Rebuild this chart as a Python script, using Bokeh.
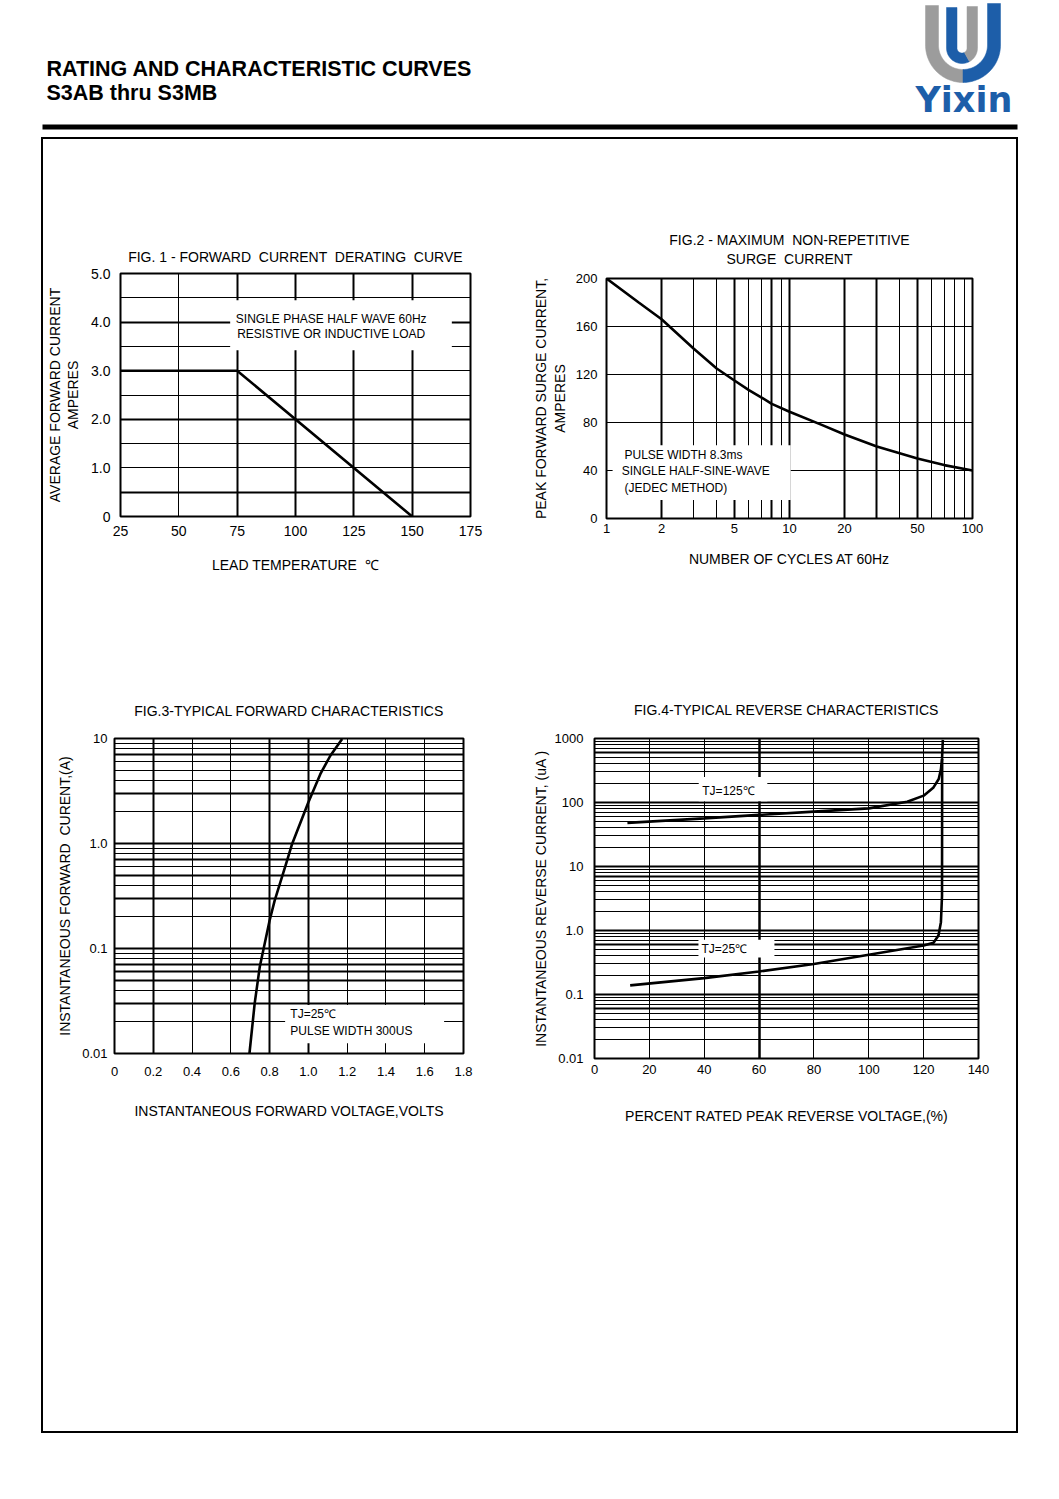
import numpy as np
from bokeh.plotting import figure
from bokeh.layouts import column, row
from bokeh.models import Range1d, FixedTicker, Grid, Label, Spacer, LinearAxis, LogAxis
from bokeh.core.properties import value
from bokeh.embed import file_html
from bokeh.resources import INLINE

FONT = "Liberation Sans"
NB = "\u00a0"

# ---------------- data ----------------
# FIG.1 forward current derating curve
fig1_temp = [25, 75, 150]
fig1_current = [3.0, 3.0, 0.0]
fig1_xticks = [25, 50, 75, 100, 125, 150, 175]
fig1_xlabels = ["25", "50", "75", "100", "125", "150", "175"]
fig1_yticks = [0, 1, 2, 3, 4, 5]
fig1_ylabels = ["0", "1.0", "2.0", "3.0", "4.0", "5.0"]

# FIG.2 maximum non-repetitive surge current
fig2_cycles = [1, 1.5, 2, 3, 4, 5, 6, 7, 8, 10, 15, 20, 30, 50, 70, 100]
fig2_surge = [200, 180, 166, 141.5, 125, 115, 107, 101, 95.5, 89, 78, 70, 60, 50, 44.5, 40]
fig2_xticks = [1, 2, 5, 10, 20, 50, 100]
fig2_xlabels = ["1", "2", "5", "10", "20", "50", "100"]
fig2_yticks = [0, 40, 80, 120, 160, 200]
fig2_ylabels = ["0", "40", "80", "120", "160", "200"]

# FIG.3 typical forward characteristics
fig3_volt = [0.696, 0.723, 0.749, 0.80, 0.826, 0.89, 0.916, 1.00, 1.062, 1.113, 1.174]
fig3_amp = [0.01, 0.03, 0.0665, 0.185, 0.286, 0.687, 0.99, 2.47, 4.6, 6.85, 9.9]
fig3_xticks = [0, 0.2, 0.4, 0.6, 0.8, 1.0, 1.2, 1.4, 1.6, 1.8]
fig3_xlabels = ["0", "0.2", "0.4", "0.6", "0.8", "1.0", "1.2", "1.4", "1.6", "1.8"]
fig3_yticks = [0.01, 0.1, 1, 10]
fig3_ylabels = ["0.01", "0.1", "1.0", "10"]

# FIG.4 typical reverse characteristics
fig4_pct_125 = [12, 40, 60, 80, 100, 114, 120, 123.6, 125.5, 126.3, 126.7, 127]
fig4_ua_125 = [48, 56.5, 64, 72, 81, 103, 128, 172, 233, 330, 480, 950]
fig4_pct_25 = [13, 40, 60, 80, 100, 120, 123.6, 125.4, 126.3, 126.7, 126.75]
fig4_ua_25 = [0.139, 0.18, 0.229, 0.30, 0.418, 0.583, 0.643, 0.836, 1.35, 3.5, 480]
fig4_xticks = [0, 20, 40, 60, 80, 100, 120, 140]
fig4_xlabels = ["0", "20", "40", "60", "80", "100", "120", "140"]
fig4_yticks = [0.01, 0.1, 1, 10, 100, 1000]
fig4_ylabels = ["0.01", "0.1", "1.0", "10", "100", "1000"]


# ---------------- helpers ----------------
def style_axis(ax, tick_size):
    ax.axis_line_color = None
    ax.major_tick_line_color = None
    ax.minor_tick_line_color = None
    ax.major_tick_out = 0
    ax.major_tick_in = 0
    ax.minor_tick_out = 0
    ax.minor_tick_in = 0
    ax.major_label_text_font = FONT
    ax.major_label_text_font_size = tick_size
    ax.major_label_text_color = "black"
    ax.axis_label_text_font = FONT
    ax.axis_label_text_font_style = "normal"
    ax.axis_label_text_font_size = "14px"
    ax.axis_label_text_color = "black"


def make_fig(width, height, borders, xr, yr, title, xlabel, ylabel,
             x_type="linear", y_type="linear", tick_size="13px"):
    l, r, t, b = borders
    p = figure(width=width, height=height, x_range=xr, y_range=yr,
               x_axis_type=x_type, y_axis_type=y_type, title=title,
               output_backend="svg", toolbar_location=None,
               min_border_left=l, min_border_right=r,
               min_border_top=t, min_border_bottom=b)
    p.xgrid.visible = False
    p.ygrid.visible = False
    p.outline_line_color = "black"
    p.outline_line_width = 2
    p.outline_line_alpha = 1
    p.background_fill_color = "white"
    p.border_fill_color = "white"
    if p.title is not None:
        p.title.align = "center"
        p.title.text_font = FONT
        p.title.text_font_style = "normal"
        p.title.text_font_size = "14px"
        p.title.text_color = "black"
    xa = p.below[0]
    ya = p.left[0]
    xa.axis_label = xlabel
    ya.axis_label = ylabel
    style_axis(xa, tick_size)
    style_axis(ya, tick_size)
    return p, xa, ya


def add_label_axis(p, axis_cls, place, text, standoff):
    ax = axis_cls(axis_label=text, ticker=FixedTicker(ticks=[]))
    style_axis(ax, "13px")
    ax.major_label_standoff = 0
    ax.axis_label_standoff = standoff
    p.add_layout(ax, place)


def set_ticks(ax, ticks, labels):
    ax.ticker = FixedTicker(ticks=ticks)
    ax.major_label_overrides = {t: s for t, s in zip(ticks, labels)}


def add_grid(p, dim, ticks, width):
    if ticks:
        p.add_layout(Grid(dimension=dim, ticker=FixedTicker(ticks=ticks),
                          grid_line_color="black", grid_line_width=width))


def add_label(p, x, y, text, align="left"):
    p.add_layout(Label(x=x, y=y, text=text, text_font=FONT, text_font_size="12px",
                       text_color="black", text_align=align, text_baseline="middle"))


def log_grid(lo_exp, hi_exp, thick_set):
    thin, thick = [], []
    for d in range(lo_exp, hi_exp):
        for k in range(1, 10):
            v = k * 10.0 ** d
            (thick if (k, d) in thick_set or k == 1 else thin).append(v)
    return thin, thick


# ---------------- header ----------------
hdr = figure(width=1051, height=137, x_range=Range1d(0, 1051), y_range=Range1d(137, 0),
             output_backend="svg", toolbar_location=None, min_border=0,
             x_axis_location=None, y_axis_location=None)
hdr.grid.visible = False
hdr.outline_line_color = None
hdr.text(x=[46], y=[68.5], text=["RATING AND CHARACTERISTIC CURVES"], text_font=value(FONT),
         text_font_style="bold", text_font_size="21.5px", text_baseline="middle", text_color="black")
hdr.text(x=[46], y=[92], text=["S3AB thru S3MB"], text_font=value(FONT),
         text_font_style="bold", text_font_size="21.5px", text_baseline="middle", text_color="black")
hdr.line(x=[42, 1017], y=[126.5, 126.5], line_width=5, line_color="black")


def band(cx, cy, R, r, th0, th1, top0=None, top1=None, n=40):
    th = np.linspace(th0, th1, n)
    xs, ys = [], []
    if top0 is not None:
        xs.append(cx + R * np.cos(th0)); ys.append(top0)
    xs += list(cx + R * np.cos(th)); ys += list(cy + R * np.sin(th))
    if top1 is not None:
        xs += [cx + R * np.cos(th1), cx + r * np.cos(th1)]; ys += [top1, top1]
    xs += list(cx + r * np.cos(th[::-1])); ys += list(cy + r * np.sin(th[::-1]))
    if top0 is not None:
        xs.append(cx + r * np.cos(th0)); ys.append(top0)
    return xs, ys


GRAY = "#9c9c9c"
BLUE = "#1d5ea9"
shapes = [
    (band(962.5, 44.5, 37.5, 24.5, np.pi, np.pi / 2, top0=5), GRAY),
    (band(962.5, 44.5, 37.5, 24.5, np.pi / 2, 0, top1=3), BLUE),
    (band(961.5, 47.5, 15.5, 5.0, np.pi, np.pi / 2 - 0.5, top0=7), BLUE),
    (band(961.5, 47.5, 15.5, 5.0, np.pi / 2 - 0.5, 0, top1=6), GRAY),
]
for (xs, ys), c in shapes:
    hdr.patch(x=xs, y=ys, fill_color=c, line_color=c, line_width=0.5)
hdr.text(x=[915], y=[99], text=["Yixin"], text_font=value("DejaVu Sans"),
         text_font_style="bold", text_font_size="35px", text_baseline="middle",
         text_color=BLUE)

# ---------------- FIG 1 ----------------
f1, f1x, f1y = make_fig(477, 501, (75, 50, 134, 124), Range1d(25, 175), Range1d(0, 5),
                        f"FIG. 1 - FORWARD {NB}CURRENT {NB}DERATING {NB}CURVE",
                        f"LEAD TEMPERATURE {NB}\u2103", "AMPERES", tick_size="14px")
add_label_axis(f1, LinearAxis, "left", "AVERAGE FORWARD CURRENT", 0)
set_ticks(f1x, fig1_xticks, fig1_xlabels)
set_ticks(f1y, fig1_yticks, fig1_ylabels)
f1.title.standoff = 18
f1x.major_label_standoff = 9
f1x.axis_label_standoff = 18
f1y.major_label_standoff = 10
f1y.axis_label_standoff = 7
add_grid(f1, 0, [50], 1)
add_grid(f1, 0, [75, 100, 125, 150], 2)
add_grid(f1, 1, [1.0, 1.5, 2.5, 3.0, 3.5, 4.5], 1)
add_grid(f1, 1, [0.5, 2.0, 4.0], 2)
f1.quad(left=[72], right=[167], bottom=[3.42], top=[4.45], fill_color="white", line_color=None)
add_label(f1, 115.3, 4.07, "SINGLE PHASE HALF WAVE 60Hz", "center")
add_label(f1, 115.3, 3.745, "RESISTIVE OR INDUCTIVE LOAD", "center")
f1.line(fig1_temp, fig1_current, line_width=2.6, line_color="black")

# ---------------- FIG 2 ----------------
f2, f2x, f2y = make_fig(496, 501, (86, 44, 139, 122), Range1d(1, 100), Range1d(0, 200),
                        None, "NUMBER OF CYCLES AT 60Hz", "AMPERES", x_type="log")
add_label_axis(f2, LogAxis, "above", f"SURGE {NB}CURRENT", 12)
add_label_axis(f2, LogAxis, "above", f"FIG.2 - MAXIMUM {NB}NON-REPETITIVE", 0)
add_label_axis(f2, LinearAxis, "left", "PEAK FORWARD SURGE CURRENT,", 0)
set_ticks(f2x, fig2_xticks, fig2_xlabels)
set_ticks(f2y, fig2_yticks, fig2_ylabels)
f2x.major_label_standoff = 5
f2x.axis_label_standoff = 15
f2y.major_label_standoff = 9
f2y.axis_label_standoff = 5
add_grid(f2, 0, [3, 4, 6, 7, 9, 40, 60, 70, 80, 90], 1)
add_grid(f2, 0, [2, 5, 8, 10, 20, 30, 50], 2)
add_grid(f2, 1, [40, 80, 120, 160], 1)
f2.quad(left=[1.08], right=[10.15], bottom=[15.5], top=[61], fill_color="white", line_color=None)
add_label(f2, 1.254, 53.3, "PULSE WIDTH 8.3ms")
add_label(f2, 1.21, 39.2, "SINGLE HALF-SINE-WAVE")
add_label(f2, 1.254, 25.8, "(JEDEC METHOD)")
f2.line(fig2_cycles, fig2_surge, line_width=2.6, line_color="black")

# ---------------- FIG 3 ----------------
f3, f3x, f3y = make_fig(477, 791, (71, 57, 98, 378), Range1d(0, 1.8), Range1d(0.01, 10),
                        "FIG.3-TYPICAL FORWARD CHARACTERISTICS", "INSTANTANEOUS FORWARD VOLTAGE,VOLTS",
                        f"INSTANTANEOUS FORWARD {NB}CURENT,(A)", y_type="log")
set_ticks(f3x, fig3_xticks, fig3_xlabels)
set_ticks(f3y, fig3_yticks, fig3_ylabels)
f3.title.standoff = 40
f3x.major_label_standoff = 13
f3x.axis_label_standoff = 24
f3y.major_label_standoff = 7
f3y.axis_label_standoff = 6
add_grid(f3, 0, [0.4, 0.6, 1.2, 1.4, 1.6], 1)
add_grid(f3, 0, [0.2, 0.8, 1.0], 2)
thin3, thick3 = log_grid(-2, 1, {(3, -2), (5, -2), (6, -2), (7, -2), (3, -1), (5, -1), (7, -1), (3, 0), (7, 0)})
add_grid(f3, 1, thin3, 1)
add_grid(f3, 1, thick3, 2)
f3.quad(left=[0.88], right=[1.70], bottom=[0.0125], top=[0.029], fill_color="white", line_color=None)
add_label(f3, 0.907, 0.0236, "TJ=25\u2103")
add_label(f3, 0.907, 0.01626, "PULSE WIDTH 300US")
f3.line(fig3_volt, fig3_amp, line_width=2.6, line_color="black")

# ---------------- FIG 4 ----------------
f4, f4x, f4y = make_fig(496, 791, (74, 38, 98, 373), Range1d(0, 140), Range1d(0.01, 1000),
                        "FIG.4-TYPICAL REVERSE CHARACTERISTICS", "PERCENT RATED PEAK REVERSE VOLTAGE,(%)",
                        "INSTANTANEOUS REVERSE CURRENT, (uA )", y_type="log")
set_ticks(f4x, fig4_xticks, fig4_xlabels)
set_ticks(f4y, fig4_yticks, fig4_ylabels)
f4.title.standoff = 42
f4x.major_label_standoff = 6
f4x.axis_label_standoff = 31
f4y.major_label_standoff = 11
f4y.axis_label_standoff = 3
add_grid(f4, 0, [20, 40, 80, 100, 120], 1)
add_grid(f4, 0, [60], 2.5)
thin4, thick4 = log_grid(-2, 3, {(6, -2), (6, -1), (7, 0), (6, 2)})
add_grid(f4, 1, thin4, 1)
add_grid(f4, 1, thick4, 2)
f4.quad(left=[38], right=[63], bottom=[105], top=[250], fill_color="white", line_color=None)
f4.quad(left=[37.9], right=[65.6], bottom=[0.38], top=[0.72], fill_color="white", line_color=None)
add_label(f4, 39.3, 152.8, "TJ=125\u2103")
add_label(f4, 39.0, 0.506, "TJ=25\u2103")
f4.line(fig4_pct_125, fig4_ua_125, line_width=2.6, line_color="black")
f4.line(fig4_pct_25, fig4_ua_25, line_width=2.6, line_color="black")

# ---------------- page ----------------
box = column(row(column(f1), column(f2)), row(column(f3), column(f4)),
             styles={"outline": "2px solid black"})
page = column(hdr, Spacer(width=1051, height=2), row(Spacer(width=43, height=1292), box))

open("out.html", "w").write(file_html(page, INLINE))
